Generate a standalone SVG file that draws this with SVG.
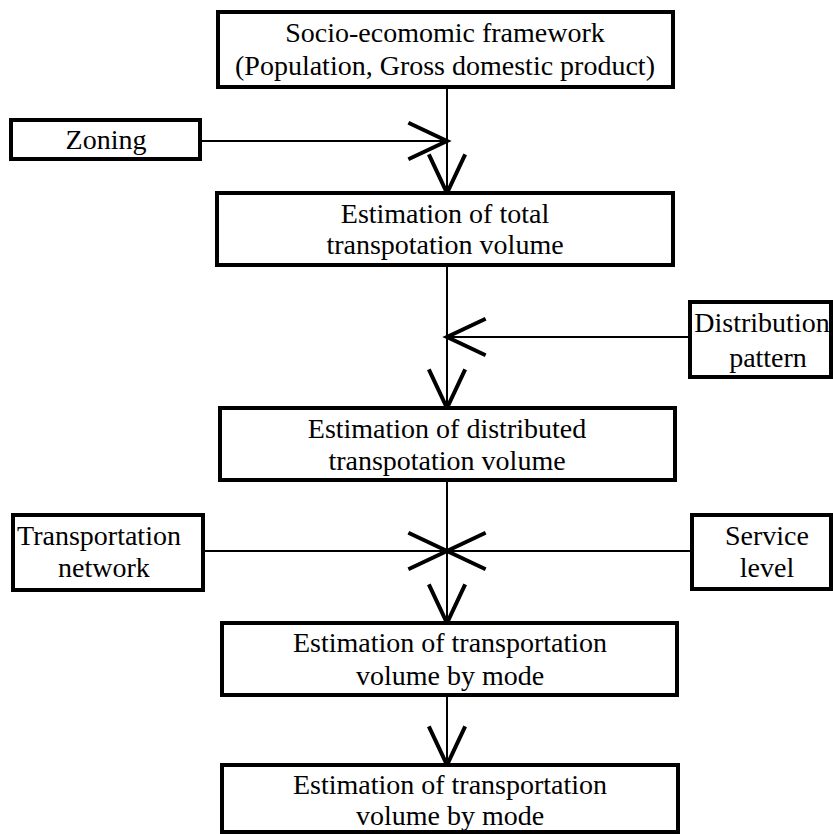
<svg xmlns="http://www.w3.org/2000/svg" width="833" height="834" viewBox="0 0 833 834">
<defs>
<marker id="v" markerUnits="userSpaceOnUse" markerWidth="50" markerHeight="50" viewBox="-40 -20 44 40" refX="0" refY="0" orient="auto" overflow="visible">
<path d="M-34,-16 L0,0 L-34,16" fill="none" stroke="#000" stroke-width="3.5"/>
</marker>
</defs>
<style>
.box{fill:#fff;stroke:#000;stroke-width:4}
.t{font-family:"Liberation Serif","Times New Roman",serif;font-size:28px;fill:#000;text-anchor:middle}
.c{stroke:#000;stroke-width:2;fill:none}
</style>
<rect width="833" height="834" fill="#fff"/>
<g id="connectors">
<line class="c" x1="447" y1="87" x2="447" y2="193" marker-end="url(#v)"/>
<line class="c" x1="200" y1="141" x2="447" y2="141" marker-end="url(#v)"/>
<line class="c" x1="447" y1="265" x2="447" y2="408" marker-end="url(#v)"/>
<line class="c" x1="690" y1="337" x2="447" y2="337" marker-end="url(#v)"/>
<line class="c" x1="447" y1="480" x2="447" y2="623" marker-end="url(#v)"/>
<line class="c" x1="203" y1="551" x2="447" y2="551" marker-end="url(#v)"/>
<line class="c" x1="692" y1="551" x2="447" y2="551" marker-end="url(#v)"/>
<line class="c" x1="447" y1="695" x2="447" y2="765" marker-end="url(#v)"/>
</g>
<g id="socio">
<rect class="box" x="218" y="12" width="455" height="75"/>
<text class="t" x="445" y="42">Socio-ecomomic framework</text>
<text class="t" x="445" y="75">(Population, Gross domestic product)</text>
</g>
<g id="zoning">
<rect class="box" x="11" y="120" width="189" height="39"/>
<text class="t" x="106" y="149">Zoning</text>
</g>
<g id="total">
<rect class="box" x="217" y="193" width="456" height="72"/>
<text class="t" x="445" y="223">Estimation of total</text>
<text class="t" x="445" y="254">transpotation volume</text>
</g>
<g id="distribution">
<rect class="box" x="690" y="302" width="141" height="75"/>
<text class="t" x="762" y="332">Distribution</text>
<text class="t" x="768" y="367">pattern</text>
</g>
<g id="distributed">
<rect class="box" x="220" y="408" width="455" height="72"/>
<text class="t" x="447" y="438">Estimation of distributed</text>
<text class="t" x="447" y="470">transpotation volume</text>
</g>
<g id="network">
<rect class="box" x="13" y="515" width="190" height="75"/>
<text class="t" x="99" y="545">Transportation</text>
<text class="t" x="104" y="577">network</text>
</g>
<g id="service">
<rect class="box" x="692" y="515" width="139" height="74"/>
<text class="t" x="767" y="545">Service</text>
<text class="t" x="767" y="577">level</text>
</g>
<g id="mode1">
<rect class="box" x="222" y="623" width="455" height="72"/>
<text class="t" x="450" y="652">Estimation of transportation</text>
<text class="t" x="450" y="685">volume by mode</text>
</g>
<g id="mode2">
<rect class="box" x="222" y="765" width="456" height="67"/>
<text class="t" x="450" y="794">Estimation of transportation</text>
<text class="t" x="450" y="825">volume by mode</text>
</g>
</svg>
